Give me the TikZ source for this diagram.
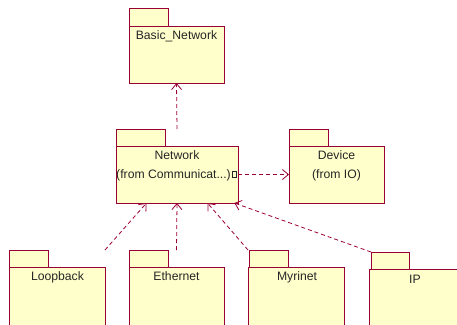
\documentclass[tikz,border=0pt]{standalone}
\usepackage{fontspec}
\setmainfont{Liberation Sans}
\usetikzlibrary{arrows.meta,calc}
\definecolor{umlred}{RGB}{153,0,51}
\definecolor{umlfill}{RGB}{255,255,204}
\begin{document}
\begin{tikzpicture}[x=1pt,y=-1pt,
  pkg/.style={draw=umlred, fill=umlfill, line width=1pt, rectangle, inner sep=0pt, outer sep=0pt, anchor=north west},
  dep/.style={draw=umlred, line width=0.8pt, dash pattern=on 4pt off 3pt, -{Straight Barb[length=6pt,width=10pt]}},
  lbl/.style={font=\fontsize{12.2}{14}\selectfont, text=black!85, anchor=base, inner sep=0pt}]
\useasboundingbox (0,0) rectangle (457,324);
\clip (0,0) rectangle (457,324);
% Basic_Network
\node[pkg, minimum width=39pt, minimum height=18pt] (bntab) at (129,8) {};
\node[pkg, minimum width=95pt, minimum height=57pt] (bn) at (129,26) {};
\node[lbl] (bnl) at (176.5,39) {Basic\_Network};
% Network
\node[pkg, minimum width=49pt, minimum height=17pt] (nettab) at (116,129) {};
\node[pkg, minimum width=122pt, minimum height=57pt] (net) at (116,146) {};
\node[lbl] (netl) at (177,159) {Network};
\node[lbl, anchor=base east] (netf) at (231,178) {(from Communicat...)};
\node[draw=black!85, line width=0.6pt, minimum width=4pt, minimum height=6pt, inner sep=0pt] (sq) at (234,174) {};
% Device
\node[pkg, minimum width=39pt, minimum height=17pt] (devtab) at (289,129) {};
\node[pkg, minimum width=95pt, minimum height=57pt] (dev) at (289,146) {};
\node[lbl] (devl) at (336.5,159) {Device};
\node[lbl] (devf) at (336.5,178) {(from IO)};
% Loopback
\node[pkg, minimum width=39pt, minimum height=17pt] (looptab) at (9,250) {};
\node[pkg, minimum width=96pt, minimum height=70pt] (loop) at (9,267) {};
\node[lbl] (loopl) at (57.5,280) {Loopback};
% Ethernet
\node[pkg, minimum width=39pt, minimum height=17pt] (ethtab) at (129,250) {};
\node[pkg, minimum width=95pt, minimum height=70pt] (eth) at (129,267) {};
\node[lbl] (ethl) at (176.5,280) {Ethernet};
% Myrinet
\node[pkg, minimum width=39pt, minimum height=17pt] (myrtab) at (249,250) {};
\node[pkg, minimum width=96pt, minimum height=70pt] (myr) at (248,267) {};
\node[lbl] (myrl) at (297,280) {Myrinet};
% IP
\node[pkg, minimum width=38pt, minimum height=17pt] (iptab) at (371,252) {};
\node[pkg, minimum width=92pt, minimum height=70pt] (ip) at (369,269) {};
\node[lbl] (ipl) at (415,283) {IP};
% connectors
\draw[dep] (net.north |- nettab.north) -- (bn.south);
\draw[dep] (net.east) -- (dev.west);
\draw[dep] (loop.east |- looptab.north) -- ($(net.south west)!0.25!(net.south east)$);
\draw[dep] (eth.north |- ethtab.north) -- (net.south);
\draw[dep] (myr.west |- myrtab.north) -- ($(net.south west)!0.75!(net.south east)$);
\draw[dep] (iptab.north west) -- ($(net.south west)!0.97!(net.south east)$);
\end{tikzpicture}
\end{document}
